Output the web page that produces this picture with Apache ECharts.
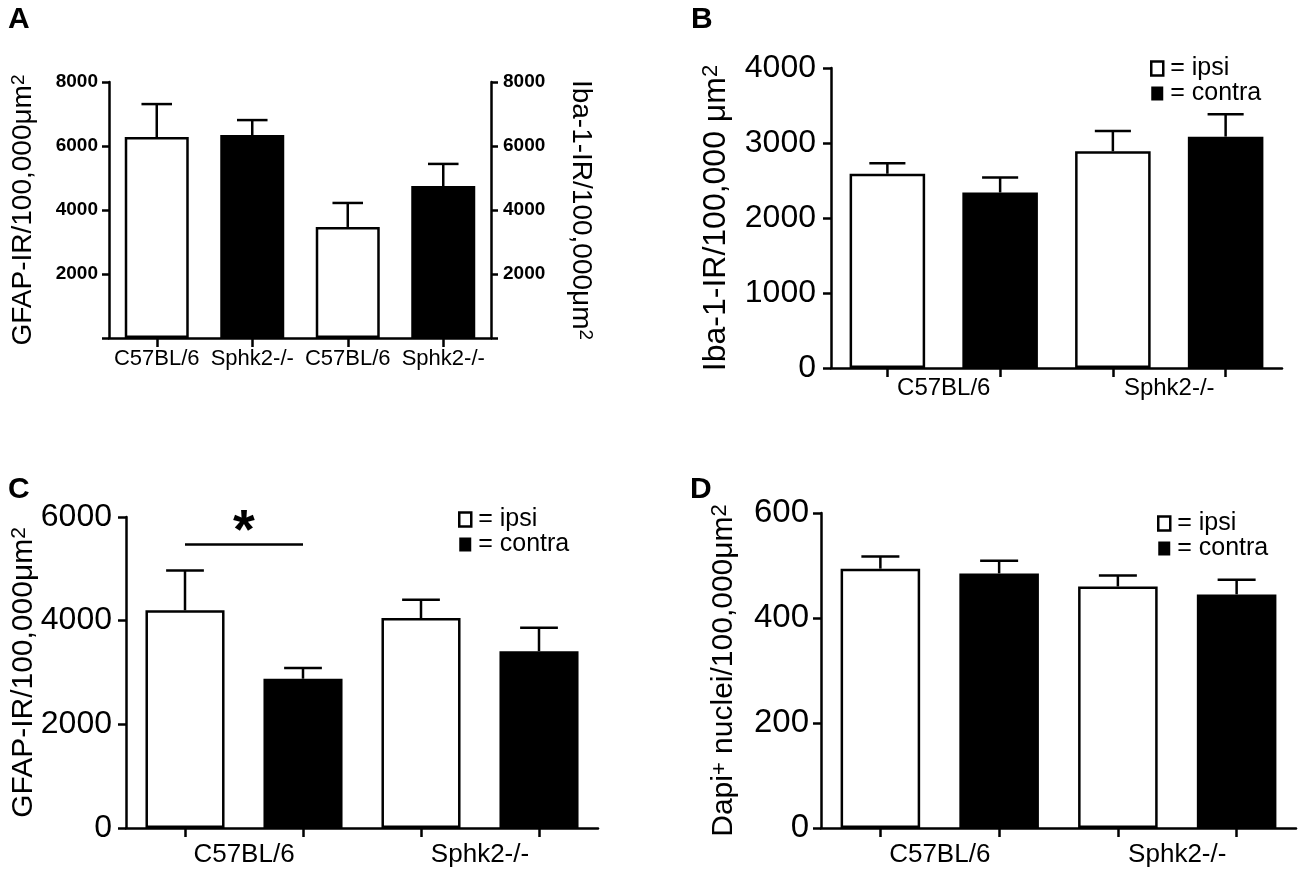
<!DOCTYPE html>
<html>
<head>
<meta charset="utf-8">
<script src="https://cdn.jsdelivr.net/npm/echarts@6/dist/echarts.min.js"></script>
<style>
html,body{margin:0;padding:0;background:#fff;}
#chart{width:1300px;height:869px;}
</style>
</head>
<body>
<div id="chart"></div>
<script>
// ---------- DATA ----------
// Panel A: GFAP (left axis) and Iba-1 (right axis)
const catsA = ['C57BL/6', 'Sphk2-/-', 'C57BL/6', 'Sphk2-/-'];
const gfapA_mean = [6280, 6340];
const gfapA_sem = [1030, 470];
const ibaA_mean = [3470, 4750];
const ibaA_sem = [750, 690];
const ticksA = [2000, 4000, 6000, 8000];

// Groups for B, C, D
const groups = ['C57BL/6', 'Sphk2-/-'];
const slots = ['C57BL/6 ipsi', 'C57BL/6 contra', 'Sphk2-/- ipsi', 'Sphk2-/- contra'];

// Panel B: Iba-1-IR
const bIpsi = [2590, 2890];
const bIpsiSem = [140, 270];
const bContra = [2340, 3085];
const bContraSem = [200, 300];
const ticksB = [0, 1000, 2000, 3000, 4000];

// Panel C: GFAP-IR
const cIpsi = [4200, 4050];
const cIpsiSem = [770, 355];
const cContra = [2880, 3410];
const cContraSem = [205, 455];
const ticksC = [0, 2000, 4000, 6000];
const sigC = [0, 1, 5470]; // from slot, to slot, bracket level

// Panel D: Dapi+ nuclei
const dIpsi = [494, 460];
const dIpsiSem = [23, 21];
const dContra = [485, 445];
const dContraSem = [24, 28];
const ticksD = [0, 200, 400, 600];

// ---------- HELPERS ----------
const FONT = "'Liberation Sans', Arial, Helvetica, sans-serif";
const AXW = 2.5;

function errRender(params, api) {
  const x = api.value(0), m = api.value(1), e = api.value(2);
  const p0 = api.coord([x, m]);
  const p1 = api.coord([x, m + e]);
  const hw = api.size([1, 0])[0] * 0.16;
  const st = { stroke: '#000', lineWidth: 2.5 };
  return {
    type: 'group',
    children: [
      { type: 'line', shape: { x1: p0[0], y1: p0[1], x2: p1[0], y2: p1[1] }, style: st },
      { type: 'line', shape: { x1: p1[0] - hw, y1: p1[1], x2: p1[0] + hw, y2: p1[1] }, style: st }
    ]
  };
}

function slotData(vals, offset) {
  const out = ['-', '-', '-', '-'];
  vals.forEach((v, i) => { out[i * 2 + offset] = v; });
  return out;
}
function errData(vals, sems, offset) {
  return vals.map((v, i) => [i * 2 + offset, v, sems[i]]);
}

const whiteStyle = { color: '#fff', borderColor: '#000', borderWidth: 2.5 };
const blackStyle = { color: '#000', borderColor: '#000', borderWidth: 2.5 };

function valueAxis(gridIndex, max, interval, labelSize, labelMargin, opts) {
  return Object.assign({
    type: 'value', gridIndex: gridIndex, min: 0, max: max, interval: interval,
    splitLine: { show: false },
    axisLine: { show: true, lineStyle: { color: '#000', width: AXW } },
    axisTick: { show: true, length: 8, lineStyle: { color: '#000', width: AXW } },
    axisLabel: { color: '#000', fontFamily: FONT, fontSize: labelSize, margin: labelMargin, formatter: v => String(v) },
    nameLocation: 'middle', nameRotate: 90, nameMoveOverlap: false,
    nameTextStyle: { color: '#000', fontFamily: FONT }
  }, opts);
}

function catAxis(gridIndex, data, showLabels, fontSize, margin) {
  return {
    type: 'category', gridIndex: gridIndex, position: 'bottom', data: data,
    axisLine: { show: true, lineStyle: { color: '#000', width: AXW } },
    axisTick: { show: true, alignWithLabel: true, length: 9, lineStyle: { color: '#000', width: AXW } },
    axisLabel: { show: showLabels, color: '#000', fontFamily: FONT, fontSize: fontSize, margin: margin, interval: 0 }
  };
}
function groupAxis(gridIndex, fontSize, margin) {
  return {
    type: 'category', gridIndex: gridIndex, position: 'bottom', data: groups,
    axisLine: { show: false }, axisTick: { show: false },
    axisLabel: { color: '#000', fontFamily: FONT, fontSize: fontSize, margin: margin, interval: 0 }
  };
}

function richTitle(size, supSize) {
  return {
    m: { fontSize: size, fontFamily: FONT, color: '#000' },
    s: { fontSize: supSize, fontFamily: FONT, color: '#000', verticalAlign: 'top' }
  };
}

function legendAt(left, top) {
  return {
    orient: 'vertical', left: left, top: top, itemGap: 0, padding: 0,
    itemWidth: 12, itemHeight: 14, icon: 'rect', selectedMode: false,
    formatter: '= {name}',
    textStyle: { color: '#000', fontFamily: FONT, fontSize: 25, lineHeight: 22, padding: [0, 0, 0, 2] },
    data: [
      { name: 'ipsi', itemStyle: { color: '#fff', borderColor: '#000', borderWidth: 2.5 } },
      { name: 'contra', itemStyle: { color: '#000', borderColor: '#000', borderWidth: 0 } }
    ]
  };
}

function pairSeries(gi, ipsi, ipsiSem, contra, contraSem, extraIpsi) {
  return [
    Object.assign({
      name: 'ipsi', type: 'bar', xAxisIndex: gi * 2 - 1, yAxisIndex: gi + 1,
      data: slotData(ipsi, 0), itemStyle: whiteStyle, barGap: '-100%', barCategoryGap: '33%',
      animation: false, silent: true
    }, extraIpsi || {}),
    {
      name: 'contra', type: 'bar', xAxisIndex: gi * 2 - 1, yAxisIndex: gi + 1,
      data: slotData(contra, 1), itemStyle: blackStyle, barGap: '-100%', barCategoryGap: '33%',
      animation: false, silent: true
    },
    {
      type: 'custom', xAxisIndex: gi * 2 - 1, yAxisIndex: gi + 1, renderItem: errRender,
      data: errData(ipsi, ipsiSem, 0).concat(errData(contra, contraSem, 1)),
      encode: { x: 0, y: 1 }, z: 5, animation: false, silent: true
    }
  ];
}

// ---------- CHART ----------
const chart = echarts.init(document.getElementById('chart'), null, { renderer: 'canvas' });

const labelA = (margin) => ({
  color: '#000', fontFamily: FONT, fontSize: 19, fontWeight: 'bold', margin: margin,
  formatter: v => (ticksA.indexOf(v) >= 0 ? String(v) : '')
});
const tickA = { show: true, length: 7, lineStyle: { color: '#000', width: AXW } };
const letter = (t, l, tp) => ({ type: 'text', left: l, top: tp,
  style: { text: t, fontSize: 30, fontWeight: 'bold', fontFamily: FONT, fill: '#000' } });

const option = {
  backgroundColor: '#fff',
  animation: false,
  textStyle: { fontFamily: FONT },
  grid: [
    { left: 109, top: 82, width: 382, height: 256, containLabel: false, outerBoundsMode: 'none' },
    { left: 831, top: 68, width: 451, height: 300, containLabel: false, outerBoundsMode: 'none' },
    { left: 126, top: 517, width: 472, height: 311, containLabel: false, outerBoundsMode: 'none' },
    { left: 821, top: 513, width: 475, height: 315, containLabel: false, outerBoundsMode: 'none' }
  ],
  xAxis: [
    catAxis(0, catsA, true, 22, 10),
    catAxis(1, slots, false, 24, 8), groupAxis(1, 24, 8),
    catAxis(2, slots, false, 26, 14), groupAxis(2, 26, 14),
    catAxis(3, slots, false, 26, 14), groupAxis(3, 26, 14)
  ],
  yAxis: [
    valueAxis(0, ticksA[ticksA.length - 1], ticksA[1] - ticksA[0], 19, 11, {
      position: 'left', axisTick: tickA, axisLabel: labelA(11),
      name: '{m|GFAP-IR/100,000μm}{s|2}', nameGap: 72,
      nameTextStyle: { rich: richTitle(28, 19) }
    }),
    valueAxis(0, ticksA[ticksA.length - 1], ticksA[1] - ticksA[0], 19, 12, {
      position: 'right', axisTick: tickA, axisLabel: labelA(12),
      name: '{m|Iba-1-IR/100,000μm}{s|2}', nameGap: 76, nameRotate: -90,
      nameTextStyle: { rich: richTitle(28, 19) }
    }),
    valueAxis(1, ticksB[ticksB.length - 1], ticksB[1] - ticksB[0], 32, 15, {
      name: '{m|Iba-1-IR/100,000 μm}{s|2}', nameGap: 99,
      nameTextStyle: { rich: richTitle(32, 22) }
    }),
    valueAxis(2, ticksC[ticksC.length - 1], ticksC[1] - ticksC[0], 32, 14, {
      name: '{m|GFAP-IR/100,000μm}{s|2}', nameGap: 87,
      nameTextStyle: { rich: richTitle(30, 21) }
    }),
    valueAxis(3, ticksD[ticksD.length - 1], ticksD[1] - ticksD[0], 33, 12, {
      name: '{m|Dapi}{s|+}{m| nuclei/100,000μm}{s|2}', nameGap: 82,
      nameTextStyle: { rich: richTitle(30, 22) }
    })
  ],
  legend: [legendAt(1150, 56), legendAt(458, 507), legendAt(1157, 511)],
  graphic: [letter('A', 8, 5), letter('B', 691, 5), letter('C', 8, 475), letter('D', 690, 475)],
  series: [
    // Panel A
    { name: 'GFAP C57BL/6', type: 'bar', xAxisIndex: 0, yAxisIndex: 0,
      data: [gfapA_mean[0], '-', '-', '-'], itemStyle: whiteStyle, barGap: '-100%', barCategoryGap: '33%', silent: true },
    { name: 'GFAP Sphk2-/-', type: 'bar', xAxisIndex: 0, yAxisIndex: 0,
      data: ['-', gfapA_mean[1], '-', '-'], itemStyle: blackStyle, barGap: '-100%', barCategoryGap: '33%', silent: true },
    { name: 'Iba-1 C57BL/6', type: 'bar', xAxisIndex: 0, yAxisIndex: 1,
      data: ['-', '-', ibaA_mean[0], '-'], itemStyle: whiteStyle, barGap: '-100%', barCategoryGap: '33%', silent: true },
    { name: 'Iba-1 Sphk2-/-', type: 'bar', xAxisIndex: 0, yAxisIndex: 1,
      data: ['-', '-', '-', ibaA_mean[1]], itemStyle: blackStyle, barGap: '-100%', barCategoryGap: '33%', silent: true },
    { type: 'custom', xAxisIndex: 0, yAxisIndex: 0, renderItem: errRender, encode: { x: 0, y: 1 }, z: 5, silent: true,
      data: [[0, gfapA_mean[0], gfapA_sem[0]], [1, gfapA_mean[1], gfapA_sem[1]]] },
    { type: 'custom', xAxisIndex: 0, yAxisIndex: 1, renderItem: errRender, encode: { x: 0, y: 1 }, z: 5, silent: true,
      data: [[2, ibaA_mean[0], ibaA_sem[0]], [3, ibaA_mean[1], ibaA_sem[1]]] }
  ]
    .concat(pairSeries(1, bIpsi, bIpsiSem, bContra, bContraSem))
    .concat(pairSeries(2, cIpsi, cIpsiSem, cContra, cContraSem, {
      markLine: {
        silent: true, symbol: 'none', animation: false,
        lineStyle: { color: '#000', width: 2.5, type: 'solid' },
        label: { show: true, position: 'middle', formatter: '*', color: '#000',
          fontFamily: FONT, fontSize: 56, fontWeight: 'bold', distance: -16 },
        data: [[{ coord: [sigC[0], sigC[2]] }, { coord: [sigC[1], sigC[2]] }]]
      }
    }))
    .concat(pairSeries(3, dIpsi, dIpsiSem, dContra, dContraSem))
};

chart.setOption(option);
</script>
</body>
</html>
